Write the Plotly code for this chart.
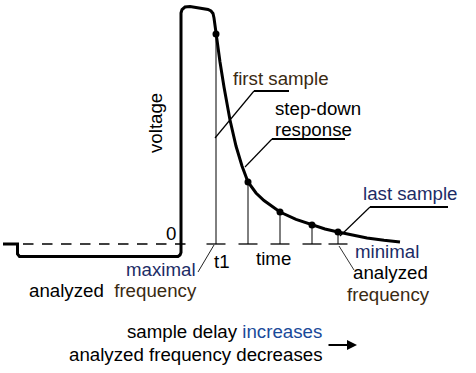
import plotly.graph_objects as go

# ---- data (time / voltage, arbitrary units; baseline voltage = 0) ----
wave_time = [3, 17.5, 17.5, 19.5, 178, 180, 181, 181, 182, 185, 190, 208, 211, 213, 214, 216,
             220, 224, 230, 236, 242, 248, 256, 264, 272, 280, 296, 312, 325, 338, 352, 367, 384, 400]
wave_volt = [0, 0, -10, -12.5, -12.5, -11, -8.5, 231, 234.5, 237, 237.5, 234.5, 233, 230.5, 226, 210,
             182, 157, 124, 98, 78, 62, 51, 43.5, 37.5, 32, 24.7, 19, 15, 12, 8.8, 6, 3.7, 2]
sample_time = [216, 248, 280, 312, 338]
sample_volt = [210, 62, 32, 19, 12]
baseline_time = [4, 190]

FONT = "Liberation Sans, Arial, sans-serif"
FS = 18.7
BLACK = "#000000"

fig = go.Figure()

# dashed zero line (left part)
fig.add_trace(go.Scatter(x=baseline_time, y=[0, 0], mode="lines",
                         line=dict(color=BLACK, width=1.3, dash="10.5px,8.5px"),
                         hoverinfo="skip"))

# stems and baseline ticks at sample instants
stem_x, stem_y, tick_x, tick_y = [], [], [], []
for t, v in zip(sample_time, sample_volt):
    stem_x += [t, t, None]
    stem_y += [v, 0, None]
    tick_x += [t - 9.5, t + 9.5, None]
    tick_y += [0, 0, None]
fig.add_trace(go.Scatter(x=stem_x, y=stem_y, mode="lines",
                         line=dict(color=BLACK, width=1), hoverinfo="skip"))
fig.add_trace(go.Scatter(x=tick_x, y=tick_y, mode="lines",
                         line=dict(color=BLACK, width=1.3), hoverinfo="skip"))

# waveform
fig.add_trace(go.Scatter(x=wave_time, y=wave_volt, mode="lines",
                         line=dict(color=BLACK, width=3), hoverinfo="skip"))

# sample points
fig.add_trace(go.Scatter(x=sample_time, y=sample_volt, mode="markers",
                         marker=dict(color=BLACK, size=7), hoverinfo="skip"))

# leader lines (label callouts), in time/voltage units
leaders = [
    ([215, 254, 289], [106, 153, 153], [1.2, 2]),
    ([245, 272, 345], [77, 105, 105], [1.2, 2]),
    ([340, 370, 448], [8, 37, 37], [1.2, 2]),
]
for xs, ys, widths in leaders:
    fig.add_shape(type="line", xref="x", yref="y", x0=xs[0], y0=ys[0], x1=xs[1], y1=ys[1],
                  line=dict(color=BLACK, width=widths[0]))
    fig.add_shape(type="line", xref="x", yref="y", x0=xs[1], y0=ys[1], x1=xs[2], y1=ys[2],
                  line=dict(color=BLACK, width=widths[1]))
# thin slanted pointers
fig.add_shape(type="line", xref="x", yref="y", x0=214, y0=-1, x1=198, y1=-28,
              line=dict(color="#222222", width=1))
fig.add_shape(type="line", xref="x", yref="y", x0=339, y0=-2, x1=354, y1=-26,
              line=dict(color="#333333", width=1))

NAVY = "#1c2c66"
BROWN = "#3a2a12"
BLUE = "#1a4a9a"

def ann(text, x, y, xanchor="left", color=BLACK, angle=0):
    fig.add_annotation(text=text, x=x, y=y, xref="x", yref="y", showarrow=False,
                       xanchor=xanchor, yanchor="middle", textangle=angle, borderpad=0,
                       font=dict(family=FONT, size=FS, color=color))

ann("voltage", 155, 244 - 123, xanchor="center", angle=-90)
ann("first sample", 232, 244 - 78.4, color=BROWN)
ann("step-down", 274, 244 - 108)
ann("response", 274, 244 - 129.2)
ann("last sample", 362, 244 - 193.4, color=NAVY)
ann("minimal", 387, 244 - 251.6, xanchor="center", color=NAVY)
ann("analyzed", 390, 244 - 272.8, xanchor="center")
ann("frequency", 388.5, 244 - 294, xanchor="center", color=BROWN)
ann("time", 255, 244 - 258.4)
ann("t1", 213, 244 - 261.4)
ann("0", 165, 244 - 233.4)
ann("maximal", 197, 244 - 269.2, xanchor="right", color=NAVY)
ann("analyzed  <span style='color:%s'>frequency</span>" % BROWN, 198, 244 - 290.4, xanchor="right")
ann("sample delay <span style='color:%s'>increases</span>" % BLUE, 323, 244 - 331.4, xanchor="right")
ann("analyzed frequency decreases", 323, 244 - 354, xanchor="right")

# arrow
fig.add_annotation(x=357, y=244 - 345, ax=327, ay=244 - 345, xref="x", yref="y",
                   axref="x", ayref="y", text="", showarrow=True, arrowhead=2,
                   arrowsize=1, arrowwidth=2, arrowcolor=BLACK, standoff=0, startstandoff=0)

fig.update_layout(
    width=476, height=373, autosize=False,
    margin=dict(l=0, r=0, t=0, b=0, pad=0),
    paper_bgcolor="white", plot_bgcolor="white",
    showlegend=False,
    xaxis=dict(range=[0, 476], visible=False, fixedrange=True),
    yaxis=dict(range=[244 - 373, 244], visible=False, fixedrange=True),
)

fig.write_html("out.html", config={"displayModeBar": False, "staticPlot": True},
               post_script="document.body.style.margin='0';document.body.style.overflow='hidden';")
